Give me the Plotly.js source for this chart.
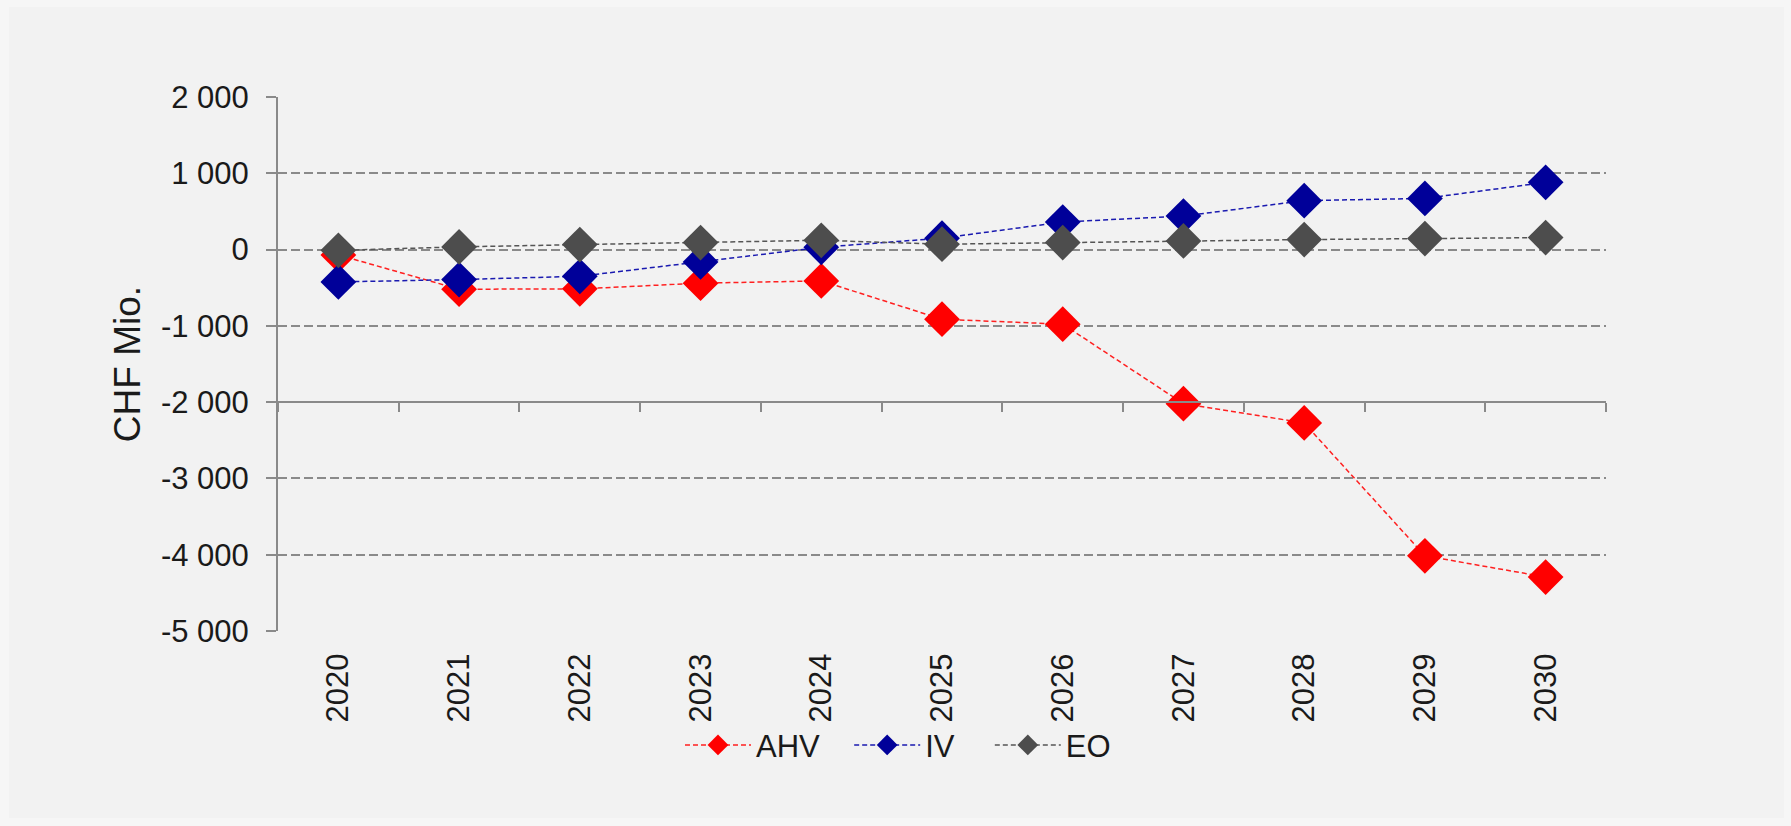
<!DOCTYPE html>
<html>
<head>
<meta charset="utf-8">
<script src="https://cdn.plot.ly/plotly-3.0.1.min.js"></script>
<style>
  html, body { margin: 0; padding: 0; background: #f6f6f6; }
  #chart { position: absolute; left: 9px; top: 7px; width: 1775px; height: 811px; }
</style>
</head>
<body>
<div id="chart"></div>
<script>
const years = ['2020','2021','2022','2023','2024','2025','2026','2027','2028','2029','2030'];
const ahv = [-70, -520, -515, -440, -411, -913, -978, -2020, -2273, -4014, -4293];
const iv  = [-424, -393, -350, -162, 30, 150, 361, 440, 641, 671, 881];
const eo  = [-10, 35, 65, 92, 122, 70, 92, 113, 131, 144, 157];
const yTickVals = [2000, 1000, 0, -1000, -2000, -3000, -4000, -5000];
const yTickText = ['2 000', '1 000', '0', '-1 000', '-2 000', '-3 000', '-4 000', '-5 000'];

const FONT = 'Liberation Sans, Arial, sans-serif';
const GRID = '#8a8a8a';
const TXT = '#1a1a1a';

function series(name, y, mcol, lcol, legendId) {
  return {
    type: 'scatter', mode: 'lines+markers', name: name,
    x: years, y: y, legend: legendId,
    line: { color: lcol, width: 1.5, dash: '5px,3px' },
    marker: { symbol: 'diamond', size: 27.5, color: mcol, line: { width: 0 } }
  };
}

const data = [
  series('AHV', ahv, '#ff0000', '#ff2020', 'legend'),
  series('IV', iv, '#000099', '#1a1ab0', 'legend2'),
  series('EO', eo, '#4d4d4d', '#555555', 'legend3')
];

function leg(x) {
  return {
    orientation: 'h', x: x, xanchor: 'left', y: -0.214, yanchor: 'middle',
    font: { family: FONT, size: 31, color: TXT },
    bgcolor: 'rgba(0,0,0,0)', itemwidth: 66
  };
}

const layout = {
  width: 1775, height: 811,
  paper_bgcolor: '#f2f2f2', plot_bgcolor: '#f2f2f2',
  margin: { l: 268.6, r: 178, t: 90, b: 186.5 },
  font: { family: FONT, size: 31, color: TXT },
  showlegend: true,
  legend: leg(0.3027),
  legend2: leg(0.4301),
  legend3: leg(0.5360),
  xaxis: {
    type: 'category', range: [-0.5, 10.5],
    anchor: 'free', position: 3/7,
    showline: true, linecolor: GRID, linewidth: 2,
    ticks: 'outside', tickson: 'boundaries', ticklen: 9, tickwidth: 2, tickcolor: GRID,
    showgrid: false, zeroline: false,
    tickangle: -90, ticklabelstandoff: 238,
    tickfont: { family: FONT, size: 31, color: TXT }
  },
  yaxis: {
    range: [-5000, 2000],
    tickvals: yTickVals, ticktext: yTickText,
    showline: true, linecolor: GRID, linewidth: 2,
    ticks: 'outside', ticklen: 10, tickwidth: 2, tickcolor: GRID,
    showgrid: true, gridcolor: GRID, gridwidth: 2, griddash: '9px,4px',
    zeroline: false, ticklabelstandoff: 11,
    tickfont: { family: FONT, size: 31, color: TXT },
    title: { text: 'CHF Mio.', standoff: 9, font: { family: FONT, size: 37, color: TXT } }
  }
};

Plotly.newPlot('chart', data, layout, { displayModeBar: false, staticPlot: true });
</script>
</body>
</html>
